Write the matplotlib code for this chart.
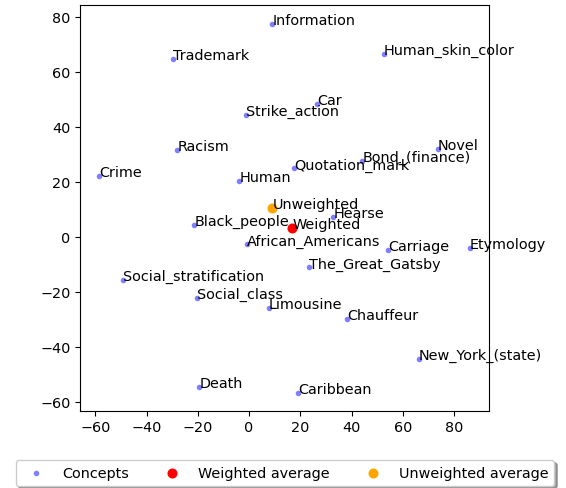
import matplotlib
matplotlib.use("Agg")
import matplotlib.pyplot as plt

plt.rcParams["font.size"] = 10.4

# 2-D projection of concept embeddings
concepts = [
    "Information", "Trademark", "Human_skin_color", "Car", "Strike_action",
    "Racism", "Novel", "Bond_(finance)", "Quotation_mark", "Crime", "Human",
    "Hearse", "Black_people", "African_Americans", "Carriage", "Etymology",
    "The_Great_Gatsby", "Social_stratification", "Social_class", "Limousine",
    "Chauffeur", "New_York_(state)", "Death", "Caribbean",
]
concept_x = [9.1, -29.6, 52.6, 26.4, -1.3, -28.0, 73.6, 44.2, 17.7, -58.4, -3.8,
             32.9, -21.3, -0.9, 54.2, 86.2, 23.5, -49.2, -20.5, 7.7,
             38.3, 66.2, -19.4, 19.0]
concept_y = [77.4, 64.7, 66.4, 48.2, 44.3, 31.7, 31.8, 27.5, 24.8, 22.1, 20.2,
             7.2, 4.4, -2.8, -4.7, -4.3, -11.2, -15.8, -22.4, -26.1,
             -30.0, -44.5, -54.6, -56.8]

weighted_xy = (16.8, 3.2)
unweighted_xy = (9.1, 10.3)

fig = plt.figure(figsize=(5.66, 4.89), dpi=100)
ax = fig.add_axes([0.142, 0.158, 0.7225, 0.830])

ax.scatter(concept_x, concept_y, s=16, c="blue", alpha=0.5, linewidths=0,
           label="Concepts")
ax.scatter([weighted_xy[0]], [weighted_xy[1]], s=52, c="red", linewidths=0,
           label="Weighted average")
ax.scatter([unweighted_xy[0]], [unweighted_xy[1]], s=52, c="orange", linewidths=0,
           label="Unweighted average")

for name, x, y in zip(concepts, concept_x, concept_y):
    ax.annotate(name, (x, y))
ax.annotate("Weighted", weighted_xy)
ax.annotate("Unweighted", unweighted_xy)

ax.set_xlim(-65.8, 93.7)
ax.set_ylim(-63.3, 84.3)
ax.set_xticks([-60, -40, -20, 0, 20, 40, 60, 80])
ax.set_yticks([-60, -40, -20, 0, 20, 40, 60, 80])

fig.legend(loc="upper center", bbox_to_anchor=(0.5035, 0.0573), ncol=3,
           shadow=True, borderaxespad=0)

fig.savefig("out.png", dpi=100)
